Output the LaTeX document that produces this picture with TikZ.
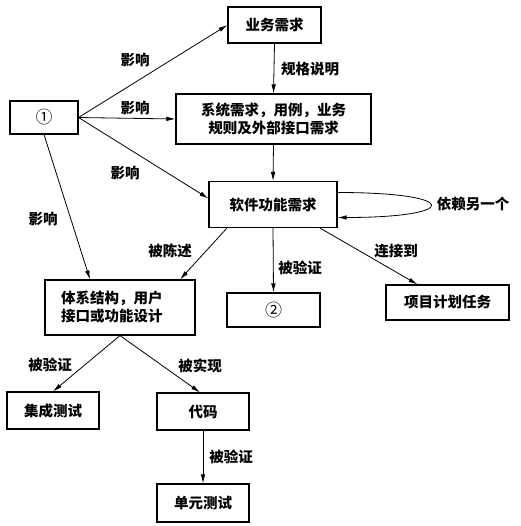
\documentclass[tikz,border=0pt]{standalone}
\usepackage{fontspec}
\setmainfont{Noto Sans CJK SC}
\usetikzlibrary{arrows.meta}
\begin{document}
\begin{tikzpicture}[>={Latex[length=9pt,width=4.5pt]}, x=1pt, y=-1pt,
        font=\fontsize{14.5}{18}\selectfont\bfseries,
        box/.style={draw, line width=1.1pt, inner sep=2pt},
        link/.style={->, line width=0.8pt},
        lbl/.style={inner sep=1pt}]
        \useasboundingbox (0,0) rectangle (520,526);

        % the box of the business requirements
        \node[box, minimum width=93pt, minimum height=36pt] (biz) at (274.5,25) {业务需求};
        % the box of the circled one on the left
        \node[box, minimum width=68pt, minimum height=33pt] (one) at (44,117.5) {\fontsize{17}{18}\selectfont\mdseries ①};
        % the box of the system requirements
        \node[box, minimum width=195pt, minimum height=50pt, align=center] (sys) at (273.5,119)
            {系统需求，用例，业务\\规则及外部接口需求};
        % the box of the software functional requirements
        \node[box, minimum width=128pt, minimum height=46pt] (soft) at (273,204.5) {软件功能需求};

        % the boxes in the middle row
        \node[box, minimum width=150pt, minimum height=55pt, text width=118pt,
            inner xsep=16pt, align=left] (arch) at (120,307.5) {体系结构，用户\\接口或功能设计};
        \node[box, minimum width=93pt, minimum height=34pt] (two) at (273.5,310) {\fontsize{17}{18}\selectfont\mdseries ②};
        \node[box, minimum width=123pt, minimum height=35pt] (task) at (447.5,302.5) {项目计划任务};

        % the boxes in the lower rows
        \node[box, minimum width=92pt, minimum height=37pt] (test) at (53,410.5) {集成测试};
        \node[box, minimum width=92pt, minimum height=37pt] (code) at (203,411.5) {代码};
        \node[box, minimum width=92pt, minimum height=38pt] (unit) at (203,503) {单元测试};

        % Arrows out of the circled one
        \draw[link] (one.east) -- (biz.west);
        \draw[link] (one.east) -- (sys.west);
        \draw[link] (one.east) -- ([yshift=6pt]soft.west);
        \draw[link] (one.south) -- ([xshift=-30pt]arch.north);
        \node[lbl] (inf1) at (135,60) {影响};
        \node[lbl] (inf2) at (135,108) {影响};
        \node[lbl] (inf3) at (125,173) {影响};
        \node[lbl] (inf4) at (43,219) {影响};

        % Arrows down the middle column
        \draw[link] (biz.south) -- (sys.north);
        \node[lbl] (spec) at (310,69) {规格说明};
        \draw[link] (sys.south) -- (soft.north);

        % Arrows out of the software functional requirements
        \draw[link] ([xshift=-46pt]soft.south) -- ([xshift=60pt]arch.north);
        \node[lbl] (told) at (170,251) {被陈述};
        \draw[link] (soft.south) -- (two.north);
        \node[lbl] (chk1) at (300,268) {被验证};
        \draw[link] ([xshift=47pt]soft.south) -- ([xshift=-30pt]task.north);
        \node[lbl] (tied) at (396,251) {连接到};
        % the loop on the right of it
        \draw[link] ([yshift=12pt]soft.east) .. controls +(124pt,0pt) and +(124pt,0pt) .. ([yshift=-13pt]soft.east);
        \node[lbl] (dep) at (473,204) {依赖另一个};

        % Arrows out of the design box
        \draw[link] (arch.south) -- (test.north);
        \node[lbl] (chk2) at (50,365) {被验证};
        \draw[link] (arch.south) -- ([xshift=-3pt]code.north);
        \node[lbl] (done) at (200,366) {被实现};

        % Arrow from code to the unit test
        \draw[link] (code.south) -- (unit.north);
        \node[lbl] (chk3) at (231,457) {被验证};
    \end{tikzpicture}
\end{document}
